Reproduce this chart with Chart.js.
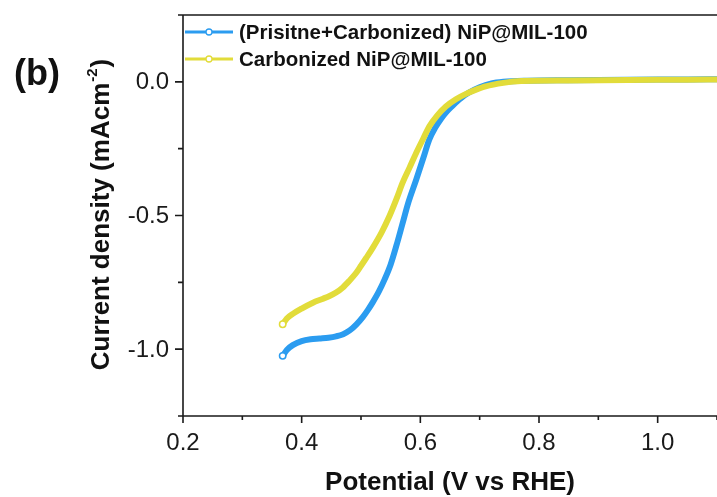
<!DOCTYPE html>
<html><head><meta charset="utf-8">
<script src="https://cdn.jsdelivr.net/npm/chart.js@4/dist/chart.umd.min.js"></script>
<style>html,body{margin:0;padding:0;background:#fff}#wrap{width:717px;height:497px;position:relative}</style>
</head><body><div id="wrap"><canvas id="c" width="717" height="497"></canvas></div>
<script>
// ---- data ----
const seriesNames = ['(Prisitne+Carbonized) NiP@MIL-100', 'Carbonized NiP@MIL-100'];
const blueV = [0.368,0.375,0.385,0.400,0.415,0.430,0.445,0.458,0.470,0.481,0.492,0.503,0.512,0.520,0.530,0.540,0.550,0.560,0.570,0.580,0.593,0.605,0.615,0.625,0.635,0.645,0.655,0.668,0.682,0.700,0.720,0.740,0.780,0.850,0.950,1.050,1.100];
const blueJ = [-1.025,-1.003,-0.985,-0.970,-0.963,-0.960,-0.957,-0.952,-0.944,-0.930,-0.908,-0.880,-0.852,-0.824,-0.785,-0.738,-0.683,-0.610,-0.530,-0.450,-0.366,-0.285,-0.216,-0.172,-0.138,-0.110,-0.088,-0.062,-0.040,-0.020,-0.006,0.000,0.004,0.006,0.008,0.009,0.010];
const yellowV = [0.368,0.375,0.385,0.400,0.419,0.435,0.447,0.458,0.469,0.480,0.492,0.500,0.509,0.520,0.535,0.548,0.560,0.570,0.582,0.593,0.605,0.615,0.628,0.643,0.660,0.677,0.693,0.710,0.740,0.770,0.850,0.950,1.050,1.100];
const yellowJ = [-0.907,-0.885,-0.868,-0.848,-0.826,-0.812,-0.801,-0.788,-0.770,-0.745,-0.714,-0.688,-0.658,-0.620,-0.562,-0.502,-0.437,-0.378,-0.320,-0.266,-0.212,-0.167,-0.127,-0.092,-0.065,-0.045,-0.030,-0.017,-0.004,0.003,0.005,0.007,0.008,0.009];
const xTickValues = [0.2,0.3,0.4,0.5,0.6,0.7,0.8,0.9,1.0,1.1];
const xTickLabels = ['0.2','','0.4','','0.6','','0.8','','1.0',''];
const yTickValues = [-1.25,-1.0,-0.75,-0.5,-0.25,0.0,0.25];
const yTickLabels = ['','-1.0','','-0.5','','0.0',''];
const xTitle = 'Potential (V vs RHE)';
const yTitleMain = 'Current density (mAcm';
const yTitleSup = '-2';
const panelLabel = '(b)';

const colors = ['#2B9CF0', '#E2DC3A'];
const FONT = "'Liberation Sans', Arial, sans-serif";

function pts(xs, ys){ return xs.map((x,i)=>({x:x, y:ys[i]})); }

const axesPlugin = {
  id: 'axesPlugin',
  afterDraw(chart){
    const ctx = chart.ctx, a = chart.chartArea;
    const xs = chart.scales.x, ys = chart.scales.y;
    ctx.save();
    ctx.strokeStyle = '#1a1a1a';
    ctx.lineWidth = 1.6;
    ctx.beginPath();
    ctx.moveTo(a.left, a.top); ctx.lineTo(a.left, a.bottom);
    ctx.moveTo(a.left - 5, a.bottom); ctx.lineTo(a.right, a.bottom);
    ctx.moveTo(a.left - 5, a.top); ctx.lineTo(a.right, a.top);
    xTickValues.forEach((v,i)=>{
      const px = xs.getPixelForValue(v);
      const len = xTickLabels[i] ? 7 : 4;
      ctx.moveTo(px, a.bottom); ctx.lineTo(px, a.bottom + len);
    });
    yTickValues.forEach((v,i)=>{
      const py = ys.getPixelForValue(v);
      const len = yTickLabels[i] ? 8 : 5;
      ctx.moveTo(a.left, py); ctx.lineTo(a.left - len, py);
    });
    ctx.stroke();

    // tick labels
    ctx.fillStyle = '#1a1a1a';
    ctx.font = '24px ' + FONT;
    ctx.textAlign = 'center'; ctx.textBaseline = 'middle';
    xTickValues.forEach((v,i)=>{
      if (xTickLabels[i]) ctx.fillText(xTickLabels[i], xs.getPixelForValue(v), a.bottom + 27);
    });
    ctx.textAlign = 'right';
    yTickValues.forEach((v,i)=>{
      if (yTickLabels[i]) ctx.fillText(yTickLabels[i], a.left - 14, ys.getPixelForValue(v) + 1);
    });

    // titles
    ctx.fillStyle = '#111';
    ctx.textBaseline = 'middle';
    ctx.textAlign = 'center';
    ctx.font = 'bold 26px ' + FONT;
    ctx.fillText(xTitle, (a.left + a.right)/2, 483);

    ctx.save();
    ctx.translate(100, (a.top + a.bottom)/2);
    ctx.rotate(-Math.PI/2);
    ctx.textAlign = 'left';
    ctx.textBaseline = 'alphabetic';
    const fMain = 'bold 26px ' + FONT, fSup = 'bold 15px ' + FONT;
    ctx.font = fMain; const w1 = ctx.measureText(yTitleMain).width; const w3 = ctx.measureText(')').width;
    ctx.font = fSup; const w2 = ctx.measureText(yTitleSup).width;
    let x0 = -(w1 + w2 + w3)/2;
    const base = 9;
    ctx.font = fMain; ctx.fillText(yTitleMain, x0, base);
    ctx.font = fSup; ctx.fillText(yTitleSup, x0 + w1 + 1, base - 12);
    ctx.font = fMain; ctx.fillText(')', x0 + w1 + w2 + 2, base);
    ctx.restore();

    ctx.textAlign = 'center';
    ctx.textBaseline = 'middle';
    ctx.font = 'bold 36px ' + FONT;
    ctx.fillText(panelLabel, 37, 75);

    chart.data.datasets.forEach((ds, i)=>{
      const y = 32 + i*27;
      ctx.strokeStyle = ds.borderColor;
      ctx.lineWidth = 3;
      ctx.beginPath(); ctx.moveTo(185, y); ctx.lineTo(233, y); ctx.stroke();
      ctx.beginPath(); ctx.arc(209, y, 3, 0, Math.PI*2);
      ctx.fillStyle = '#fff'; ctx.fill(); ctx.lineWidth = 1.3; ctx.stroke();
      ctx.fillStyle = '#111';
      ctx.textAlign = 'left'; ctx.textBaseline = 'middle';
      ctx.font = 'bold 20.5px ' + FONT;
      ctx.fillText(ds.label, 239, y + 1);
    });
    ctx.restore();
  }
};

const firstPointRadius = ctx => ctx.dataIndex === 0 ? 3.2 : 0;

new Chart(document.getElementById('c'), {
  type: 'line',
  data: {
    datasets: [
      { label: seriesNames[0], data: pts(blueV, blueJ), borderColor: colors[0], borderWidth: 6,
        pointRadius: firstPointRadius, pointBackgroundColor: '#fff', pointBorderColor: colors[0], pointBorderWidth: 1.5,
        cubicInterpolationMode: 'monotone', order: 1, borderCapStyle: 'round', borderJoinStyle: 'round' },
      { label: seriesNames[1], data: pts(yellowV, yellowJ), borderColor: colors[1], borderWidth: 6,
        pointRadius: firstPointRadius, pointBackgroundColor: '#fff', pointBorderColor: colors[1], pointBorderWidth: 1.5,
        cubicInterpolationMode: 'monotone', order: 0, borderCapStyle: 'round', borderJoinStyle: 'round' }
    ]
  },
  options: {
    responsive: false, animation: false, devicePixelRatio: 1,
    layout: { autoPadding: false, padding: { top: 15, right: 0, left: 0, bottom: 0 } },
    plugins: { legend: { display: false }, tooltip: { enabled: false } },
    scales: {
      x: {
        type: 'linear', min: 0.2, max: 1.1,
        afterBuildTicks: s => { s.ticks = xTickValues.map(v => ({ value: v })); },
        afterFit: s => { s.height = 81; },
        grid: { display: false }, border: { display: false },
        ticks: { display: false }
      },
      y: {
        type: 'linear', min: -1.25, max: 0.25,
        afterBuildTicks: s => { s.ticks = yTickValues.map(v => ({ value: v })); },
        afterFit: s => { s.width = 183; },
        grid: { display: false }, border: { display: false },
        ticks: { display: false }
      }
    }
  },
  plugins: [axesPlugin]
});
</script>
</body></html>
